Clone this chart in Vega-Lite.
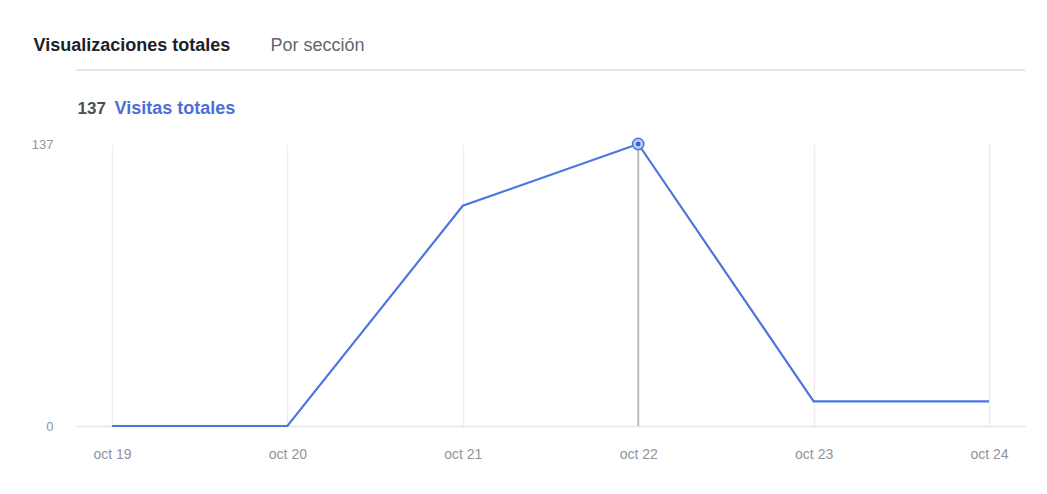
{
  "$schema": "https://vega.github.io/schema/vega-lite/v6.json",
  "width": 949,
  "height": 282,
  "autosize": {"type": "none"},
  "padding": {"left": 76, "top": 144, "right": 22, "bottom": 68},
  "background": "white",
  "config": {
    "view": {"stroke": null},
    "font": "Liberation Sans",
    "axis": {"labelFont": "Liberation Sans", "titleFont": "Liberation Sans"}
  },
  "data": {
    "values": [
      {"fecha": "oct 19", "visitas": 0},
      {"fecha": "oct 20", "visitas": 0},
      {"fecha": "oct 21", "visitas": 107},
      {"fecha": "oct 22", "visitas": 137},
      {"fecha": "oct 23", "visitas": 12},
      {"fecha": "oct 24", "visitas": 12}
    ]
  },
  "resolve": {"axis": {"x": "independent", "y": "independent"}},
  "layer": [
    {
      "mark": {"type": "rule", "color": "#e5e6e9", "strokeWidth": 2},
      "encoding": {
        "y": {"datum": 173, "type": "quantitative", "scale": {"domain": [0, 137], "nice": false}, "axis": null}
      }
    },
    {
      "transform": [{"filter": "datum.fecha === 'oct 22'"}],
      "mark": {"type": "rule", "color": "#bdbdbd", "strokeWidth": 2},
      "encoding": {
        "x": {"field": "fecha", "type": "ordinal", "scale": {"type": "point", "padding": 0.205}, "axis": null},
        "y": {"field": "visitas", "type": "quantitative", "axis": null},
        "y2": {"datum": 0}
      }
    },
    {
      "mark": {"type": "line", "color": "#4b77de", "strokeWidth": 2.2},
      "encoding": {
        "x": {
          "field": "fecha", "type": "ordinal", "scale": {"type": "point", "padding": 0.205},
          "axis": {
            "orient": "bottom", "labelAngle": 0, "ticks": false, "labelPadding": 21,
            "labelFontSize": 14, "labelColor": "#90949c",
            "domainColor": "#e6e6e6", "domainWidth": 1.5,
            "grid": true, "gridColor": "#eeeeee", "gridWidth": 1.5,
            "title": "Por sección", "titleX": 194, "titleY": -376,
            "titleAlign": "left", "titleBaseline": "alphabetic", "titleAnchor": null,
            "titleFontSize": 18, "titleFontWeight": "normal", "titleColor": "#606770"
          }
        },
        "y": {
          "field": "visitas", "type": "quantitative",
          "scale": {"domain": [0, 137], "nice": false},
          "axis": {
            "orient": "left", "values": [0, 137], "ticks": false, "domain": false, "grid": false,
            "labelPadding": 23, "labelFontSize": 13, "labelColor": "#90949c",
            "title": "137", "titleAngle": 0, "titleX": 1, "titleY": -31,
            "titleAlign": "left", "titleBaseline": "alphabetic",
            "titleFontSize": 17, "titleFontWeight": "bold", "titleColor": "#4b4f56"
          }
        }
      }
    },
    {
      "transform": [{"filter": "datum.fecha === 'oct 22'"}],
      "mark": {"type": "point", "shape": "circle", "filled": true, "fill": "#b9c9f2", "stroke": "#4b77de", "strokeWidth": 1.5, "opacity": 1, "size": 130},
      "encoding": {
        "x": {
          "field": "fecha", "type": "ordinal", "scale": {"type": "point", "padding": 0.205},
          "axis": {
            "orient": "top", "labels": false, "ticks": false, "domain": false, "grid": false,
            "title": "Visualizaciones totales", "titleX": -43, "titleY": -94,
            "titleAlign": "left", "titleBaseline": "alphabetic", "titleAnchor": null,
            "titleFontSize": 18, "titleFontWeight": "bold", "titleColor": "#1d2129"
          }
        },
        "y": {
          "field": "visitas", "type": "quantitative",
          "axis": {
            "orient": "right", "labels": false, "ticks": false, "domain": false, "grid": false,
            "title": "Visitas totales", "titleAngle": 0, "titleX": -911, "titleY": -31,
            "titleAlign": "left", "titleBaseline": "alphabetic",
            "titleFontSize": 18, "titleFontWeight": "bold", "titleColor": "#4c6fd6"
          }
        }
      }
    },
    {
      "transform": [{"filter": "datum.fecha === 'oct 22'"}],
      "mark": {"type": "point", "shape": "circle", "filled": true, "color": "#3560c8", "opacity": 1, "size": 22},
      "encoding": {
        "x": {"field": "fecha", "type": "ordinal", "scale": {"type": "point", "padding": 0.205}, "axis": null},
        "y": {"field": "visitas", "type": "quantitative", "axis": null}
      }
    }
  ]
}
